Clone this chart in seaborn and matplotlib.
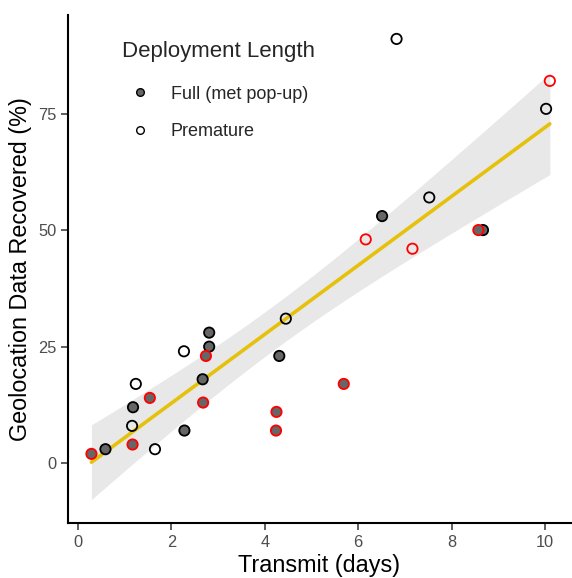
import numpy as np
import pandas as pd
import seaborn as sns
import matplotlib
matplotlib.use('Agg')
import matplotlib.pyplot as plt
from matplotlib.lines import Line2D

# transmit duration (days) and % geolocation data recovered
transmit = [0.59, 1.18, 2.28, 2.67, 2.81, 2.81, 4.31, 6.51, 8.67,
            0.29, 1.17, 1.54, 2.68, 2.74, 4.25, 4.24, 5.69, 8.57,
            1.16, 1.24, 1.65, 2.27, 4.45, 6.82, 7.52, 10.02,
            6.16, 7.16, 10.10]
recovered = [3, 12, 7, 18, 25, 28, 23, 53, 50,
             2, 4, 14, 13, 23, 11, 7, 17, 50,
             8, 17, 3, 24, 31, 91, 57, 76,
             48, 46, 82]
deployment = ['Full (met pop-up)'] * 18 + ['Premature'] * 11
outline = (['black'] * 9 + ['red'] * 9 + ['black'] * 8 + ['red'] * 3)

df = pd.DataFrame({'Transmit': transmit, 'Recovered': recovered,
                   'Deployment': deployment, 'Outline': outline})

sns.set_style('white')
plt.rcParams['font.family'] = ['Liberation Sans', 'DejaVu Sans']

fig = plt.figure(figsize=(5.72, 5.78), dpi=100)
ax = fig.add_axes([0.119, 0.0946, 0.879, 0.880])

# linear model + 95% confidence band (t based, like lm)
x = df['Transmit'].values
y = df['Recovered'].values
n = len(x)
b1, b0 = np.polyfit(x, y, 1)
resid = y - (b0 + b1 * x)
sigma = np.sqrt(np.sum(resid ** 2) / (n - 2))
xg = np.linspace(x.min(), x.max(), 100)
se = sigma * np.sqrt(1 / n + (xg - x.mean()) ** 2 / np.sum((x - x.mean()) ** 2))
tcrit = 2.052  # t(0.975, df=27)
ax.fill_between(xg, b0 + b1 * xg - tcrit * se, b0 + b1 * xg + tcrit * se,
                color='#e8e8e8', linewidth=0, zorder=0)

sns.regplot(data=df, x='Transmit', y='Recovered', scatter=False, ci=None,
            color='#e6c10c', line_kws={'linewidth': 2.6}, ax=ax)

fills = {'Full (met pop-up)': '#666666', 'Premature': 'none'}
for grp, face in fills.items():
    sub = df[df['Deployment'] == grp]
    sns.scatterplot(data=sub, x='Transmit', y='Recovered', color=face,
                    edgecolor=sub['Outline'].tolist(), s=55, linewidth=1.3,
                    legend=False, zorder=3, ax=ax)

ax.set_xlim(-0.21, 10.55)
ax.set_ylim(-12.9, 96.2)
ax.set_xticks([0, 2, 4, 6, 8, 10])
ax.set_yticks([0, 25, 50, 75])
ax.set_xlabel('Transmit (days)', fontsize=16.8, color='black', labelpad=3)
ax.set_ylabel('Geolocation Data Recovered (%)', fontsize=16.8, color='black', labelpad=4)
ax.tick_params(axis='both', direction='out', length=5, width=1.1,
               color='#333333', labelsize=11.8, labelcolor='#4d4d4d', bottom=True, left=True)
sns.despine(ax=ax)
for s in ['left', 'bottom']:
    ax.spines[s].set_linewidth(1.5)
    ax.spines[s].set_color('black')

handles = [Line2D([], [], marker='o', linestyle='', markersize=5.5,
                  markerfacecolor='#666666', markeredgecolor='black', markeredgewidth=1),
           Line2D([], [], marker='o', linestyle='', markersize=5.5,
                  markerfacecolor='white', markeredgecolor='black', markeredgewidth=1)]
leg = ax.legend(handles, ['Full (met pop-up)', 'Premature'], title='Deployment Length',
                frameon=False, loc='upper left', bbox_to_anchor=(0.075, 0.98),
                fontsize=13, title_fontsize=16, handletextpad=0.7, labelspacing=1.15)
leg._legend_box.align = 'left'
leg._legend_box.sep = 17

fig.savefig('out.png', dpi=100)
